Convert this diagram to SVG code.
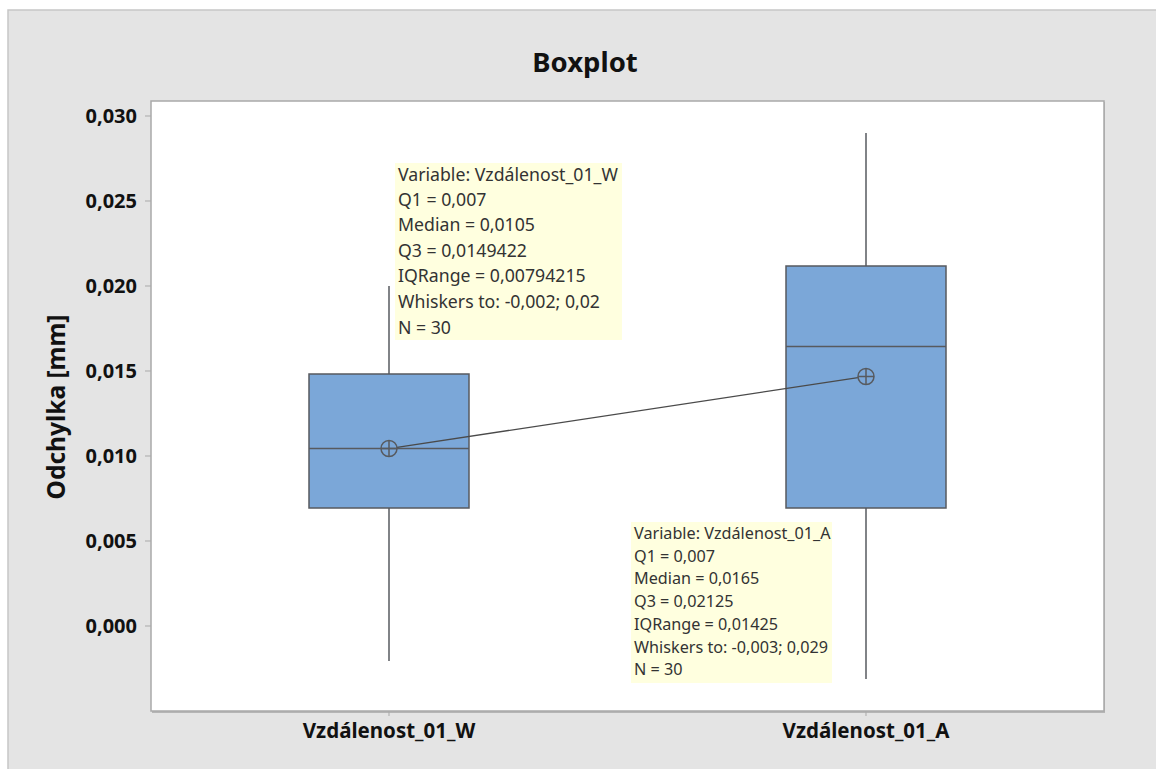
<svg xmlns="http://www.w3.org/2000/svg" width="1156" height="769" viewBox="0 0 1156 769">
  <defs>
    <style>
      .frame { fill: #e4e4e4; stroke: #c6c6c6; stroke-width: 1.5; }
      .plot { fill: #ffffff; stroke: #a9a9a9; stroke-width: 1.5; }
      .tick { stroke: #a9a9a9; stroke-width: 1; }
      .ylab { font-family: "Noto Sans", "Open Sans", sans-serif; font-weight: bold; font-size: 20px; fill: #111; text-anchor: end; }
      .xlab { font-family: "Noto Sans", "Open Sans", sans-serif; font-weight: bold; font-size: 20.5px; fill: #111; text-anchor: middle; }
      .title { font-family: "Noto Sans", "Open Sans", sans-serif; font-weight: bold; font-size: 27.5px; fill: #111; text-anchor: middle; }
      .axtitle { font-family: "Noto Sans", "Open Sans", sans-serif; font-weight: bold; font-size: 24.5px; fill: #111; text-anchor: middle; }
      .box { fill: #7ba7d8; stroke: #575a5f; stroke-width: 1.5; }
      .whisker { stroke: #575a5f; stroke-width: 1.5; fill: none; }
      .mean { fill: none; stroke: #575a5f; stroke-width: 1.5; }
      .meanline { stroke: #4a4a4a; stroke-width: 1.3; fill: none; }
      .tip { fill: #ffffdf; }
      .tiptext { font-family: "Noto Sans", "Open Sans", sans-serif; font-size: 17.7px; fill: #333; }
      .tiptextsm { font-family: "Noto Sans", "Open Sans", sans-serif; font-size: 16.2px; fill: #333; }
    </style>
  </defs>

  <!-- background frame -->
  <rect class="frame" x="8" y="10" width="1160" height="770"/>
  <!-- plot area with soft shadow on right and bottom -->
  <rect x="152" y="102" width="953" height="611" fill="#b5b5b5"/>
  <rect class="plot" x="151" y="101" width="953" height="610"/>

  <!-- title -->
  <text class="title" x="585" y="72">Boxplot</text>

  <!-- y axis -->
  <g id="y-axis">
    <text class="axtitle" transform="translate(65,407) rotate(-90)">Odchylka [mm]</text>
    <line class="tick" x1="145" y1="116" x2="151" y2="116"/>
    <line class="tick" x1="145" y1="201" x2="151" y2="201"/>
    <line class="tick" x1="145" y1="286" x2="151" y2="286"/>
    <line class="tick" x1="145" y1="371" x2="151" y2="371"/>
    <line class="tick" x1="145" y1="456" x2="151" y2="456"/>
    <line class="tick" x1="145" y1="541" x2="151" y2="541"/>
    <line class="tick" x1="145" y1="626" x2="151" y2="626"/>
    <text class="ylab" x="137" y="123">0,030</text>
    <text class="ylab" x="137" y="208">0,025</text>
    <text class="ylab" x="137" y="293">0,020</text>
    <text class="ylab" x="137" y="378">0,015</text>
    <text class="ylab" x="137" y="463">0,010</text>
    <text class="ylab" x="137" y="548">0,005</text>
    <text class="ylab" x="137" y="633">0,000</text>
  </g>

  <!-- x axis -->
  <g id="x-axis">
    <line class="tick" x1="389" y1="711" x2="389" y2="716"/>
    <line class="tick" x1="866" y1="711" x2="866" y2="716"/>
    <text class="xlab" x="389" y="738">Vzdálenost_01_W</text>
    <text class="xlab" x="866" y="738">Vzdálenost_01_A</text>
  </g>

  <!-- box for Vzdálenost_01_W -->
  <g id="box-W">
    <line class="whisker" x1="389" y1="286" x2="389" y2="374"/>
    <line class="whisker" x1="389" y1="508" x2="389" y2="661"/>
    <rect class="box" x="309" y="374" width="160" height="134"/>
    <line class="whisker" x1="309" y1="448.5" x2="469" y2="448.5"/>
  </g>

  <!-- box for Vzdálenost_01_A -->
  <g id="box-A">
    <line class="whisker" x1="866" y1="133" x2="866" y2="266"/>
    <line class="whisker" x1="866" y1="508" x2="866" y2="679"/>
    <rect class="box" x="786" y="266" width="160" height="242"/>
    <line class="whisker" x1="786" y1="346.5" x2="946" y2="346.5"/>
  </g>

  <!-- connector joining the means -->
  <g id="connectors">
    <line class="meanline" x1="397" y1="447.3" x2="858" y2="377.7"/>
  </g>

  <!-- mean symbols -->
  <g id="mean-W">
    <circle class="mean" cx="389" cy="448.5" r="8"/>
    <line class="mean" x1="381" y1="448.5" x2="397" y2="448.5"/>
    <line class="mean" x1="389" y1="440.5" x2="389" y2="456.5"/>
  </g>
  <g id="mean-A">
    <circle class="mean" cx="866" cy="376.5" r="8"/>
    <line class="mean" x1="858" y1="376.5" x2="874" y2="376.5"/>
    <line class="mean" x1="866" y1="368.5" x2="866" y2="384.5"/>
  </g>

  <!-- hover tip for W -->
  <g id="tip-W">
    <rect class="tip" x="395" y="163" width="227" height="177"/>
    <text class="tiptext" x="398" y="181">Variable: Vzdálenost_01_W</text>
    <text class="tiptext" x="398" y="206">Q1 = 0,007</text>
    <text class="tiptext" x="398" y="231">Median = 0,0105</text>
    <text class="tiptext" x="398" y="257">Q3 = 0,0149422</text>
    <text class="tiptext" x="398" y="282">IQRange = 0,00794215</text>
    <text class="tiptext" x="398" y="308">Whiskers to: -0,002; 0,02</text>
    <text class="tiptext" x="398" y="334">N = 30</text>
  </g>

  <!-- hover tip for A -->
  <g id="tip-A">
    <rect class="tip" x="631" y="522" width="201" height="161"/>
    <text class="tiptextsm" x="634" y="539">Variable: Vzdálenost_01_A</text>
    <text class="tiptextsm" x="634" y="562">Q1 = 0,007</text>
    <text class="tiptextsm" x="634" y="584">Median = 0,0165</text>
    <text class="tiptextsm" x="634" y="607">Q3 = 0,02125</text>
    <text class="tiptextsm" x="634" y="630">IQRange = 0,01425</text>
    <text class="tiptextsm" x="634" y="653">Whiskers to: -0,003; 0,029</text>
    <text class="tiptextsm" x="634" y="675">N = 30</text>
  </g>
</svg>
